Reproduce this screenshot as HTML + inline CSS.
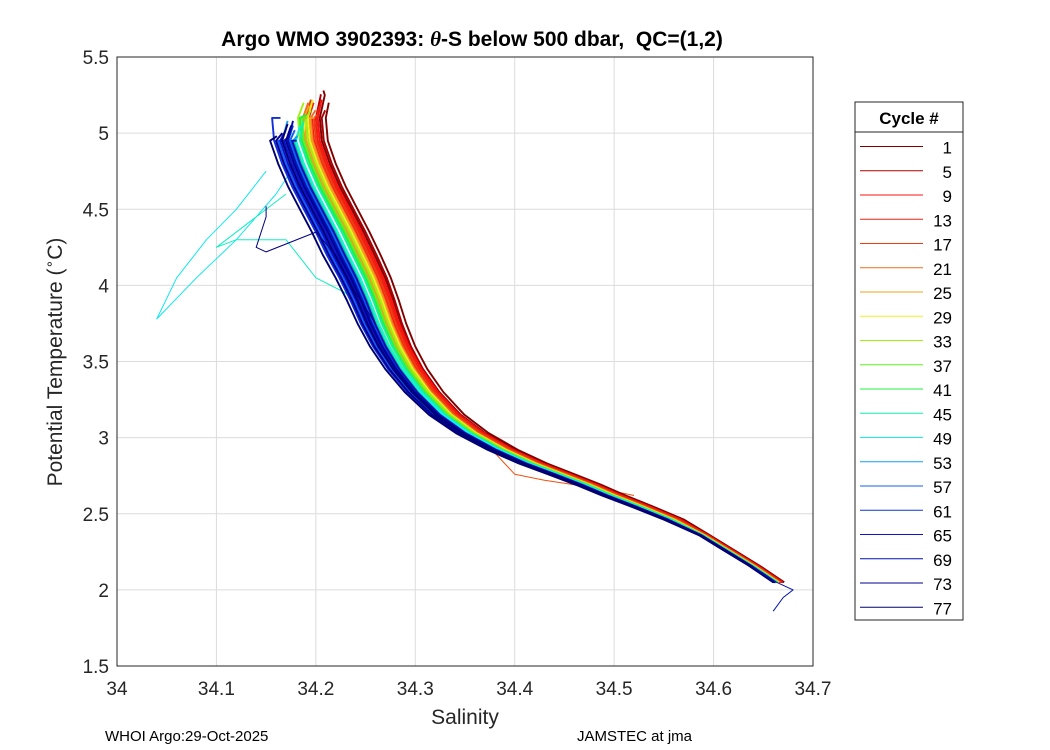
<!DOCTYPE html>
<html><head><meta charset="utf-8"><style>
body{margin:0;background:#fff;}
svg{display:block;font-family:"Liberation Sans","DejaVu Sans",sans-serif;}
</style></head><body>
<svg id="chart" width="1050" height="750" viewBox="0 0 1050 750">
<rect x="0" y="0" width="1050" height="750" fill="#fff"/>
<rect x="117" y="57" width="696" height="609" fill="#fff" stroke="none"/>
<g id="grid"></g>
<g id="lines"></g>
<rect x="117" y="57" width="696" height="609" fill="none" stroke="#262626" stroke-width="1"/>
<g id="ticks"></g>
<text x="472" y="46" text-anchor="middle" font-size="21" font-weight="bold" fill="#000">Argo WMO 3902393: <tspan font-family="Liberation Serif" font-style="italic">θ</tspan>-S below 500 dbar,&#160; QC=(1,2)</text>
<text x="465" y="724" text-anchor="middle" font-size="21" fill="#262626">Salinity</text>
<text transform="translate(62,362) rotate(-90)" text-anchor="middle" font-size="21" fill="#262626">Potential Temperature (<tspan font-size="14" dy="-8">∘</tspan><tspan dy="8">C)</tspan></text>
<text x="105" y="741" font-size="15" fill="#000">WHOI Argo:29-Oct-2025</text>
<text x="577" y="741" font-size="15" fill="#000">JAMSTEC at jma</text>
<g id="legend">
<rect x="855" y="102" width="108" height="518" fill="#fff" stroke="#262626"/>
<text x="909" y="124" text-anchor="middle" font-size="17" font-weight="bold" fill="#000">Cycle #</text>
<line x1="855" y1="132" x2="963" y2="132" stroke="#262626"/>
</g>
</svg>
<script>
// axis ticks
const xTicks=[34,34.1,34.2,34.3,34.4,34.5,34.6,34.7];
const yTicks=[1.5,2,2.5,3,3.5,4,4.5,5,5.5];
const xTickLabels=["34","34.1","34.2","34.3","34.4","34.5","34.6","34.7"];
const yTickLabels=["1.5","2","2.5","3","3.5","4","4.5","5","5.5"];
// mean theta-S curve
const baseS=[34.195,34.19,34.192,34.2,34.21,34.222,34.234,34.245,34.256,34.265,34.273,34.283,34.296,34.313,34.335,34.36,34.39,34.42,34.448,34.475,34.5,34.527,34.56,34.59,34.615,34.64,34.665];
const baseT=[5.25,5.1,4.95,4.8,4.65,4.5,4.35,4.2,4.05,3.9,3.75,3.6,3.45,3.3,3.15,3.03,2.92,2.83,2.76,2.69,2.62,2.55,2.46,2.36,2.26,2.16,2.05];
// legend cycles and colours
const legendCycles=[1,5,9,13,17,21,25,29,33,37,41,45,49,53,57,61,65,69,73,77];
const legendColors=["#800000","#aa0000","#ff1010","#ee2010","#f03a10","#f06a20","#f0a020","#f0f020","#a0f010","#60f020","#20f040","#10f0b0","#10f0f0","#10a0f0","#1060f0","#1030e0","#1010d0","#0010b0","#000090","#000070"];
// per-profile data: cycle, upper salinity offset, lower salinity offset, top temperature
const profCycles=[1,3,5,7,9,11,13,15,17,19,21,23,25,27,29,31,33,35,37,39,41,43,45,47,49,51,53,55,57,59,61,63,65,67,69,71,73,75,77,79];
const profUpper=[0.014,0.02,0.01,0.016,0.012,0.006,0.01,0.003,0.008,0.0,0.005,-0.003,0.004,-0.002,0.002,-0.006,0.0,-0.008,-0.004,-0.012,-0.006,-0.014,-0.008,-0.018,-0.012,-0.022,-0.015,-0.026,-0.018,-0.03,-0.02,-0.034,-0.024,-0.028,-0.02,-0.016,-0.032,-0.022,-0.038,-0.026];
const profLower=[0.008,0.01,0.006,0.005,0.007,0.003,0.005,0.002,0.004,0.0,0.002,0.001,0.0,-0.001,0.001,-0.002,0.0,-0.003,-0.001,-0.002,-0.003,-0.004,-0.002,-0.005,-0.003,-0.004,-0.006,-0.005,-0.004,-0.006,-0.005,-0.007,-0.006,-0.004,-0.008,-0.006,-0.007,-0.005,-0.008,-0.006];
const profTop=[5.28,5.2,5.25,5.15,5.22,5.1,5.18,5.2,5.12,5.22,5.15,5.2,5.1,5.18,5.22,5.08,5.15,5.2,5.1,5.05,5.12,5.0,5.08,4.95,5.05,5.0,4.98,5.08,5.02,4.95,5.05,5.1,4.98,5.02,5.08,4.95,5.0,5.05,4.98,5.06];
// anomalous profiles
const anomCyanS=[34.15,34.12,34.09,34.06,34.04,34.08,34.12,34.16,34.18];
const anomCyanT=[4.75,4.5,4.3,4.05,3.78,4.05,4.3,4.6,4.8];
const anomCyan2S=[34.17,34.14,34.1,34.12,34.17,34.2,34.23,34.25];
const anomCyan2T=[4.6,4.45,4.25,4.3,4.3,4.05,3.95,3.8];
const anomNavyS=[34.15,34.15,34.14,34.15,34.2,34.22,34.24,34.26];
const anomNavyT=[4.52,4.45,4.25,4.22,4.35,4.2,3.95,3.75];
const anomOrangeS=[34.38,34.4,34.43,34.46,34.49,34.52];
const anomOrangeT=[2.9,2.76,2.72,2.69,2.66,2.62];
const anomTailS=[34.64,34.66,34.68,34.67,34.66];
const anomTailT=[2.15,2.06,2.0,1.95,1.86];

const NS='http://www.w3.org/2000/svg';
const X0=117,X1=813,Y0=666,Y1=57;
function xs(s){return X0+(s-34)/0.7*(X1-X0);}
function yt(t){return Y0-(t-1.5)/4*(Y0-Y1);}
function mk(tag,attrs,parent){const e=document.createElementNS(NS,tag);for(const k in attrs)e.setAttribute(k,attrs[k]);parent.appendChild(e);return e;}
const grid=document.getElementById('grid'),ticks=document.getElementById('ticks'),lines=document.getElementById('lines'),legend=document.getElementById('legend');
xTicks.forEach((v,i)=>{
  const g=mk('line',{x1:xs(v),x2:xs(v),y1:Y1,y2:Y0,stroke:'#dcdcdc'},grid);
  
  
  const t=mk('text',{x:xs(v),y:Y0+29,'text-anchor':'middle','font-size':19,fill:'#262626'},ticks);
  t.textContent=xTickLabels[i];
  
  
});
yTicks.forEach((v,i)=>{
  const g=mk('line',{x1:X0,x2:X1,y1:yt(v),y2:yt(v),stroke:'#dcdcdc'},grid);
  
  
  const t=mk('text',{x:X0-8,y:yt(v)+7,'text-anchor':'end','font-size':19,fill:'#262626'},ticks);
  t.textContent=yTickLabels[i];
  
  
});
function colorFor(c){let idx=Math.min(legendCycles.length-1,Math.floor((c-1)/4));return legendColors[idx];}
function drawPath(S,T,col,w){
  let d='';S.forEach((s,i)=>{d+=(i?'L':'M')+xs(s).toFixed(1)+','+yt(T[i]).toFixed(1);});
  const p=mk('path',{d:d,fill:'none',stroke:col,'stroke-width':w||1,'stroke-linejoin':'round'},lines);
  return p;
}
[[anomCyanS,anomCyanT,'#10e8f0'],[anomCyan2S,anomCyan2T,'#10f0c0'],[anomOrangeS,anomOrangeT,'#f05010']].forEach(a=>{
  const p=drawPath(a[0],a[1],a[2],1);
  
  
});
profCycles.forEach((c,k)=>{
  const S=[],T=[];
  baseT.forEach((t,i)=>{
    if(t>profTop[k])return;
    const w=Math.max(0,Math.min(1,(t-2.36)/1.8));
    const off=profUpper[k]*w+profLower[k]*(1-w)*(t>2.36?1:0.6);
    S.push(baseS[i]+off);T.push(t);
  });
  S.unshift(baseS[0]+profUpper[k]*0.9);T.unshift(profTop[k]);
  const p=drawPath(S,T,colorFor(c),1.9);
  
  
});
[[anomNavyS,anomNavyT,'#000080'],[anomTailS,anomTailT,'#0010b0']].forEach(a=>{
  const p=drawPath(a[0],a[1],a[2],1);
  
  
});
legendCycles.forEach((c,i)=>{
  const y=146.5+i*24.25;
  const l=mk('line',{x1:860,x2:923,y1:y,y2:y,stroke:legendColors[i],'stroke-width':1},legend);
  
  
  const t=mk('text',{x:952,y:y+7,'text-anchor':'end','font-size':17,fill:'#000'},legend);
  t.textContent=c;
  
  
});
</script>
</body></html>
